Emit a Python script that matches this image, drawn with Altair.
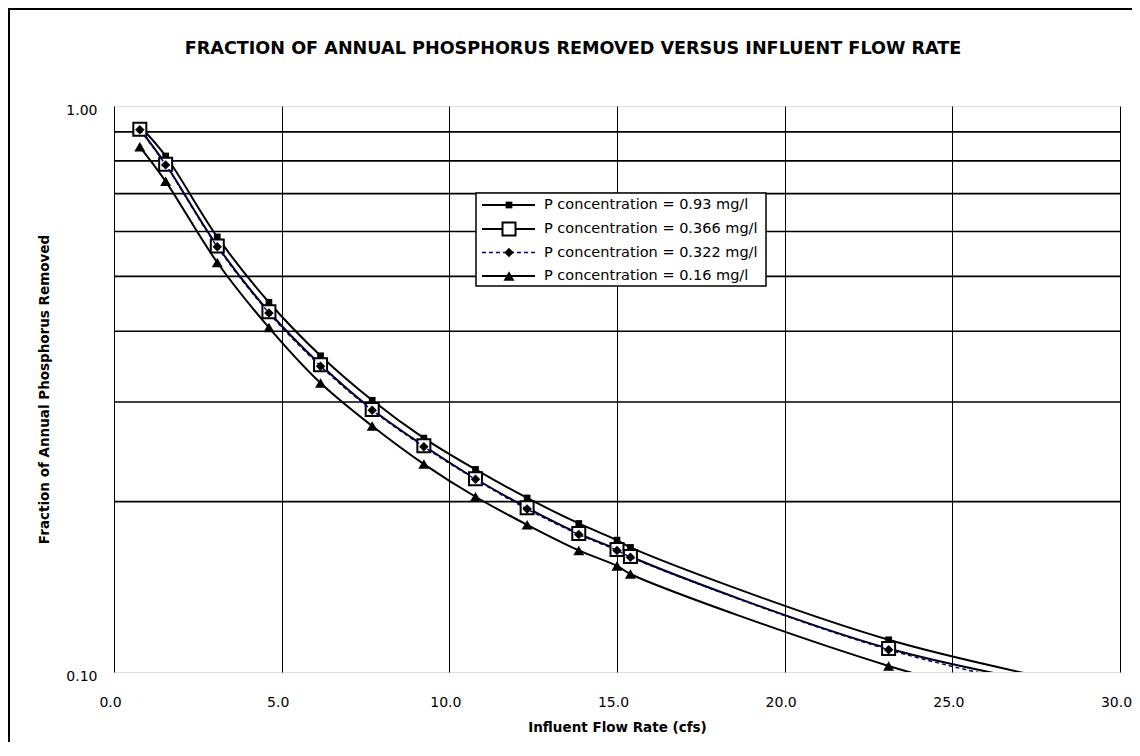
import altair as alt
import pandas as pd

# ---------------- data ----------------
flow = [0.77, 1.54, 3.08, 4.62, 6.16, 7.70, 9.24, 10.78, 12.32, 13.86, 15.0, 15.4, 23.1, 30.8]
p_093 = [0.922, 0.816, 0.587, 0.450, 0.362, 0.302, 0.259, 0.228, 0.203, 0.183, 0.171, 0.166, 0.114, 0.0897]
p_0366 = [0.910, 0.789, 0.566, 0.433, 0.349, 0.291, 0.251, 0.2195, 0.195, 0.1756, 0.1646, 0.160, 0.110, 0.0886]
p_0322 = [0.908, 0.787, 0.564, 0.431, 0.347, 0.290, 0.250, 0.219, 0.194, 0.175, 0.164, 0.1595, 0.1095, 0.0861]
p_016 = [0.847, 0.736, 0.529, 0.406, 0.324, 0.272, 0.233, 0.204, 0.182, 0.164, 0.154, 0.149, 0.1025, 0.078]

labels = [
    "P concentration = 0.93 mg/l",
    "P concentration = 0.366 mg/l",
    "P concentration = 0.322 mg/l",
    "P concentration = 0.16 mg/l",
]
x_ticks = [0, 5, 10, 15, 20, 25, 30]
y_ticks = [0.1, 1.0]
y_grid = [0.2, 0.3, 0.4, 0.5, 0.6, 0.7, 0.8, 0.9]

TITLE = "FRACTION OF ANNUAL PHOSPHORUS REMOVED VERSUS INFLUENT FLOW RATE"
X_TITLE = "Influent Flow Rate (cfs)"
Y_TITLE = "Fraction of Annual Phosphorus Removed"

# ---------------- build table ----------------
rows = []
for name, vals in zip(labels, [p_093, p_0366, p_0322, p_016]):
    for xv, yv in zip(flow, vals):
        rows.append({"series": name, "flow": xv, "frac": yv})
df = pd.DataFrame(rows)

W, H = 1006, 566
FONT = "DejaVu Sans"

xscale = alt.Scale(domain=[0, 30], nice=False, zero=False)
yscale = alt.Scale(type="log", domain=[0.1, 1.0], nice=False)

xaxis = alt.Axis(
    values=x_ticks, format=".1f", grid=True, gridColor="black", gridWidth=1,
    gridOpacity=1, ticks=False, tickSize=0, domain=False, labelFlush=False,
    labelPadding=23, labelOffset=-4, labelFontSize=14, labelColor="black",
    labelFont=FONT, title=X_TITLE, titleFont=FONT, titleFontSize=13.5,
    titleFontWeight="bold", titleColor="black", titleX=W / 2, titleY=59,
    titleAlign="center", titleBaseline="alphabetic",
)
yaxis = alt.Axis(
    values=y_ticks, format=".2f", grid=False, ticks=False, tickSize=0,
    domain=False, labelFlush=False, labelPadding=17, labelOffset=4, labelFontSize=14,
    labelColor="black", labelFont=FONT, title=Y_TITLE, titleFont=FONT,
    titleFontSize=13.5, titleFontWeight="bold", titleColor="black",
    titleX=-70, titleY=H / 2, titleAngle=270, titleAlign="center",
    titleBaseline="middle",
)

X = alt.X("flow:Q", scale=xscale, axis=xaxis)
Y = alt.Y("frac:Q", scale=yscale, axis=yaxis)

# horizontal (minor) grid lines
hgrid = alt.Chart(pd.DataFrame({"g": y_grid})).mark_rule(
    color="black", strokeWidth=1.6
).encode(y=alt.Y("g:Q", scale=yscale, axis=yaxis))

base = alt.Chart(df)

styles = [
    (dict(color="black", strokeWidth=2),
     dict(shape="square", size=45, filled=True, fill="black", stroke="black", strokeWidth=0)),
    (dict(color="black", strokeWidth=2),
     dict(shape="square", size=169, filled=True, fill="white", stroke="black", strokeWidth=2)),
    (dict(color="#000080", strokeWidth=1.5, strokeDash=[4, 3]),
     dict(shape="diamond", size=90, filled=True, fill="black", stroke="black", strokeWidth=0)),
    (dict(color="black", strokeWidth=2),
     dict(shape="triangle-up", size=121, filled=True, fill="black", stroke="black", strokeWidth=0)),
]

layers = [hgrid]
for name, (lp, pp) in zip(labels, styles):
    sub = base.transform_filter(alt.datum.series == name)
    layers.append(sub.mark_line(interpolate="catmull-rom", clip=True, **lp).encode(x=X, y=Y))
    layers.append(sub.mark_point(clip=True, opacity=1, **pp).encode(x=X, y=Y))

# ---------------- legend (drawn in pixel space) ----------------
one = pd.DataFrame({"k": [0]})
LX0, LX1, LY0, LY1 = 362, 652, 87, 180
layers.append(
    alt.Chart(one).mark_rect(fill="white", stroke="black", strokeWidth=1.5).encode(
        x=alt.value(LX0), x2=alt.value(LX1), y=alt.value(LY0), y2=alt.value(LY1)
    )
)
row_y = [99, 123, 146.5, 170]
for name, (lp, pp), yc in zip(labels, styles, row_y):
    layers.append(
        alt.Chart(one).mark_rule(**lp).encode(
            x=alt.value(368), x2=alt.value(421), y=alt.value(yc)
        )
    )
    layers.append(
        alt.Chart(one).mark_point(opacity=1, **pp).encode(x=alt.value(395), y=alt.value(yc))
    )
    layers.append(
        alt.Chart(one).mark_text(
            text=name, align="left", baseline="middle", font=FONT, fontSize=14.5, color="black"
        ).encode(x=alt.value(430), y=alt.value(yc))
    )

# chart title (as a text mark, centred on the whole chart box)
layers.append(
    alt.Chart(one).mark_text(
        text=TITLE, align="center", baseline="alphabetic", font=FONT, fontSize=17.6,
        fontWeight="bold", color="black",
    ).encode(x=alt.value(459), y=alt.value(-52.5))
)

# outer chart border
layers.append(
    alt.Chart(one).mark_rect(fill="transparent", stroke="black", strokeWidth=2).encode(
        x=alt.value(-105), x2=alt.value(2000), y=alt.value(-97), y2=alt.value(2000)
    )
)

chart = alt.layer(*layers).properties(
    width=W,
    height=H,
    padding={"left": 106, "top": 98, "right": 12, "bottom": 70},
    autosize=alt.AutoSizeParams(type="none"),
).configure_view(stroke="black", strokeWidth=2).configure(background="white")

chart.save("out.html", embed_options={"renderer": "svg", "actions": False})
